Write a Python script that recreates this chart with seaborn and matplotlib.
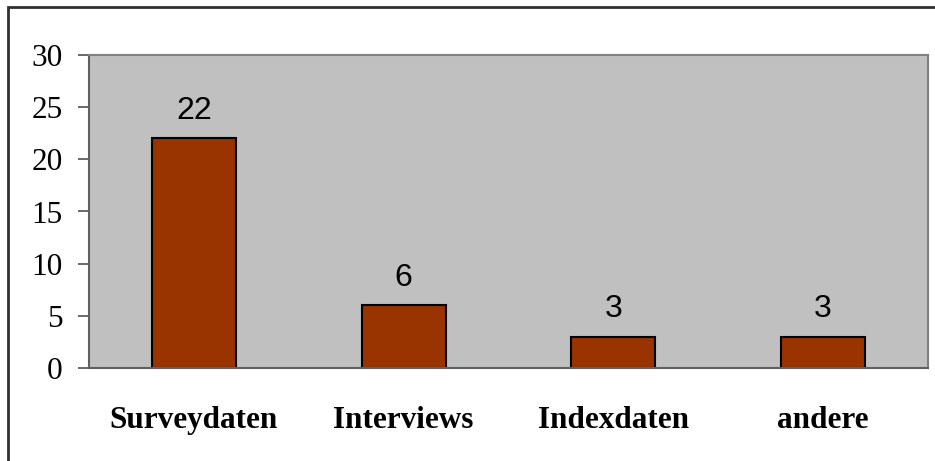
import matplotlib
matplotlib.use("Agg")
import matplotlib.pyplot as plt
import seaborn as sns
import pandas as pd
from matplotlib.patches import Rectangle

# Daten
kategorien = ["Surveydaten", "Interviews", "Indexdaten", "andere"]
anzahl = [22, 6, 3, 3]
y_ticks = [0, 5, 10, 15, 20, 25, 30]

df = pd.DataFrame({"kat": kategorien, "n": anzahl})

sns.set_style("white")
plt.rcParams["text.color"] = "black"
plt.rcParams["xtick.color"] = "black"
plt.rcParams["ytick.color"] = "black"

fig = plt.figure(figsize=(9.35, 4.61), dpi=100)
ax = fig.add_axes([89 / 935, 1 - 368 / 461, (928 - 89) / 935, (368 - 55) / 461])

sns.barplot(data=df, x="kat", y="n", color="#993300", width=0.4,
            edgecolor="black", linewidth=1.5, saturation=1, ax=ax)

ax.set_facecolor("#C0C0C0")
ax.set_ylim(0, 30)
ax.set_xlim(-0.5, len(kategorien) - 0.5)
ax.set_yticks(y_ticks)
ax.set_yticklabels([str(t) for t in y_ticks], family="Liberation Serif", fontsize=22.5, color="black")
ax.set_xticks(range(len(kategorien)))
ax.set_xticklabels(kategorien, family="Liberation Serif", fontsize=22.5, fontweight="bold", color="black")
ax.set_xticks([i - 0.5 for i in range(len(kategorien) + 1)], minor=True)
ax.tick_params(axis="x", which="major", length=0, pad=27)
ax.tick_params(axis="x", which="minor", length=8, width=1.2, color="#505050", direction="out")
ax.tick_params(axis="y", length=8, width=1.2, color="#505050", direction="out", pad=11, left=True)
ax.set_xlabel("")
ax.set_ylabel("")

for s in ax.spines.values():
    s.set_color("#808080")
    s.set_linewidth(1.5)
ax.spines["left"].set_color("#606060")
ax.spines["bottom"].set_color("#606060")

for i, v in enumerate(anzahl):
    ax.annotate(str(v), (i, v), xytext=(0, 9), textcoords="offset points",
                ha="center", va="bottom", family="Liberation Sans", fontsize=23, color="black")

# Rahmen um das Diagramm
fig.patches.append(Rectangle((8 / 935, -0.1), 1.2, 1 - 7 / 461 + 0.1,
                             transform=fig.transFigure, fill=False,
                             edgecolor="#303030", linewidth=2))

fig.savefig("out.png", dpi=100)
